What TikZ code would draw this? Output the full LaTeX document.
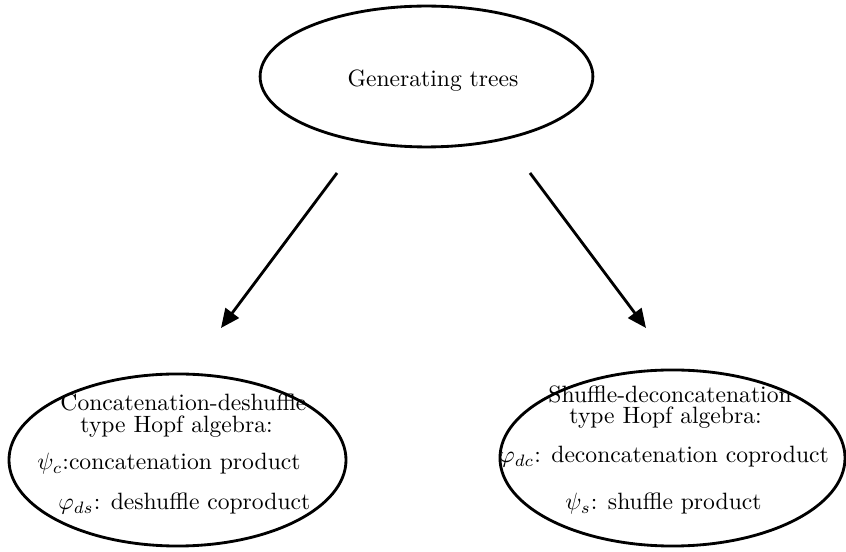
\documentclass[tikz,border=0pt]{standalone}
\usetikzlibrary{shapes.geometric,arrows.meta}
\begin{document}
\begin{tikzpicture}[x=0.4237pt,y=-0.4237pt,
  oval/.style={draw,ellipse,line width=1.2pt,inner sep=0pt},
  txt/.style={anchor=base west,inner sep=0pt},
  arr/.style={line width=1.2pt,-{Triangle[length=8pt,width=7pt]}}]
\useasboundingbox (0,0) rectangle (846,552);
\node[oval,minimum width=141pt,minimum height=59.7pt] (top) at (426.5,76.5) {};
\node[anchor=base,inner sep=0pt] (toptxt) at (433,87) {Generating trees};
\node[oval,minimum width=142.8pt,minimum height=72.9pt] (left) at (177.5,460) {};
\node[oval,minimum width=146.2pt,minimum height=74.6pt] (right) at (672.5,458) {};
\node[txt] (l1) at (60,411) {Concatenation-deshuffle};
\node[txt] (l2) at (80,433) {type Hopf algebra:};
\node[txt] (l3) at (37,470) {$\psi_c$:concatenation product};
\node[txt] (l4) at (58,510) {$\varphi_{ds}$: deshuffle coproduct};
\node[txt] (r1) at (548,403) {Shuffle-deconcatenation};
\node[txt] (r2) at (569,424) {type Hopf algebra:};
\node[txt] (r3) at (499,463) {$\varphi_{dc}$: deconcatenation coproduct};
\node[txt] (r4) at (565,510) {$\psi_s$: shuffle product};
\coordinate (a1s) at (337,173);
\coordinate (a1e) at (221,328);
\coordinate (a2s) at (530,173);
\coordinate (a2e) at (646,328);
\draw[arr] (a1s) -- (a1e);
\draw[arr] (a2s) -- (a2e);
\end{tikzpicture}
\end{document}
